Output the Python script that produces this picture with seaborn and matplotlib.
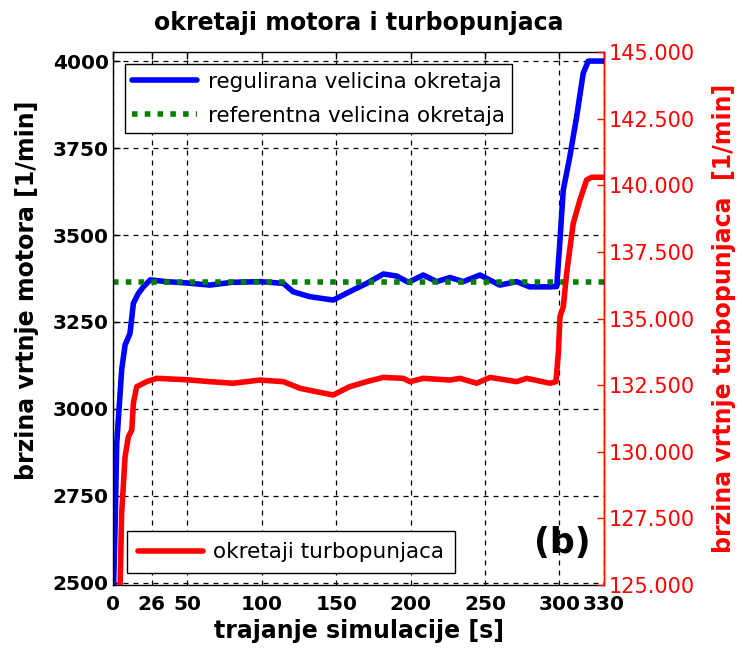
import numpy as np
import pandas as pd
import matplotlib
matplotlib.use('Agg')
import matplotlib.pyplot as plt
import seaborn as sns

# vrijeme [s] i okretaji motora [1/min]
t_motor = [0.3, 1.3, 2.5, 5.8, 8.1, 11.4, 13.7, 17, 20.4, 25, 36, 50, 65, 80, 99,
           114.5, 121, 132, 148, 159, 170.5, 181.7, 190.7, 198.5, 208.5, 217.5,
           226.5, 235.4, 246.6, 260, 271.3, 280, 293.7, 298.2, 300.4, 302.6,
           307, 311.6, 316, 319.4, 330]
n_motor = [2480, 2643, 2901, 3112, 3184, 3217, 3304, 3332, 3351, 3371, 3366, 3362,
           3356, 3364, 3366, 3361, 3337, 3323, 3313, 3337, 3361, 3388, 3382, 3364,
           3385, 3366, 3378, 3366, 3385, 3356, 3366, 3351, 3351, 3352, 3486, 3629,
           3725, 3840, 3965, 4000, 4000]

# referentna vrijednost
n_ref = 3366
t_ref = [0, 330]

# okretaji turbopunjaca [1/min]
t_turbo = [4.7, 5.8, 8.1, 10.3, 12.6, 13.7, 15.9, 22.6, 29.4, 50, 65, 80.7, 98.8,
           114.5, 125.7, 137, 148, 159, 170.5, 181.7, 195, 199.6, 208.5, 226.5,
           233.2, 244.4, 253.4, 271.3, 278, 293.7, 297.7, 299.3, 300.4, 302.6,
           304.9, 309.3, 313.8, 318.3, 321.7, 330]
n_turbo = [124800, 127690, 129810, 130560, 130815, 131820, 132440, 132630, 132755,
           132700, 132630, 132570, 132690, 132630, 132380, 132250, 132130, 132440,
           132630, 132790, 132755, 132630, 132755, 132690, 132755, 132570, 132790,
           132630, 132755, 132570, 132630, 133690, 135070, 135440, 136700, 138570,
           139445, 140200, 140300, 140300]

x_ticks = [0, 26, 50, 100, 150, 200, 250, 300, 330]
y_ticks = [2500, 2750, 3000, 3250, 3500, 3750, 4000]
y2_ticks = [125000, 127500, 130000, 132500, 135000, 137500, 140000, 142500, 145000]

sns.set_style('white')
plt.rcParams['font.family'] = ['DejaVu Sans']
plt.rcParams['text.color'] = 'black'
plt.rcParams['axes.labelcolor'] = 'black'
plt.rcParams['xtick.color'] = 'black'
plt.rcParams['ytick.color'] = 'black'

fig = plt.figure(figsize=(7.47, 6.51), dpi=100)
ax = fig.add_axes([0.1513, 0.1014, 0.6573, 0.8187])
ax2 = ax.twinx()

sns.lineplot(x=t_motor, y=n_motor, ax=ax, color='blue', lw=4, sort=False)
sns.lineplot(x=t_ref, y=[n_ref, n_ref], ax=ax, color='green', lw=4,
             linestyle=(0, (1, 1.3)))
sns.lineplot(x=t_turbo, y=n_turbo, ax=ax2, color='red', lw=4, sort=False)

ax.set_xlim(0, 330)
ax.set_ylim(2494, 4026)
ax2.set_ylim(125000, 145000)

ax.set_xticks(x_ticks)
ax.set_yticks(y_ticks)
ax2.set_yticks(y2_ticks)
ax2.set_yticklabels([f'{v:,.0f}'.replace(',', '.') for v in y2_ticks])

ax.grid(True, color='black', lw=0.9, linestyle=(0, (4, 4)))
ax.tick_params(direction='in', length=5, labelsize=14.5, top=True, width=1)
ax.tick_params(axis='x', pad=7)
ax.tick_params(axis='y', pad=3)
for lb in ax.get_xticklabels() + ax.get_yticklabels():
    lb.set_fontweight('bold')
ax2.tick_params(axis='y', direction='in', length=5, labelsize=15,
                colors='red', width=1, pad=3)

for s in ax.spines.values():
    s.set_color('black')
    s.set_linewidth(1)
for k, s in ax2.spines.items():
    s.set_visible(k == 'right')
ax2.spines['right'].set_color('red')

ax.set_title('okretaji motora i turbopunjaca', fontsize=17, fontweight='bold', pad=16)
ax.set_xlabel('trajanje simulacije [s]', fontsize=17, fontweight='bold', labelpad=4)
ax.set_ylabel('brzina vrtnje motora [1/min]', fontsize=17, fontweight='bold')
ax.yaxis.set_label_coords(-0.151, 0.553)
ax2.set_ylabel('brzina vrtnje turbopunjaca  [1/min]', fontsize=17,
               fontweight='bold', color='red')
ax2.yaxis.set_label_coords(1.22, 0.5)

h = ax.get_lines()
leg1 = ax.legend(h[:2], ['regulirana velicina okretaja', 'referentna velicina okretaja'],
                 loc='upper left', bbox_to_anchor=(0.024, 0.977), fontsize=15.5,
                 fancybox=False, edgecolor='black', framealpha=1, handlelength=3,
                 borderaxespad=0, borderpad=0.35, labelspacing=0.65, handletextpad=0.5)
leg1.get_frame().set_linewidth(1)
leg2 = ax2.legend(ax2.get_lines()[:1], ['okretaji turbopunjaca'], loc='lower left',
                  bbox_to_anchor=(0.029, 0.0225), fontsize=15.5, fancybox=False,
                  edgecolor='black', framealpha=1, handlelength=3, borderaxespad=0,
                  borderpad=0.5, handletextpad=0.5)
leg2.get_frame().set_linewidth(1)

ax.text(302, 2615, '(b)', fontsize=25, fontweight='bold', ha='center', va='center')

fig.savefig('out.png', dpi=100)
